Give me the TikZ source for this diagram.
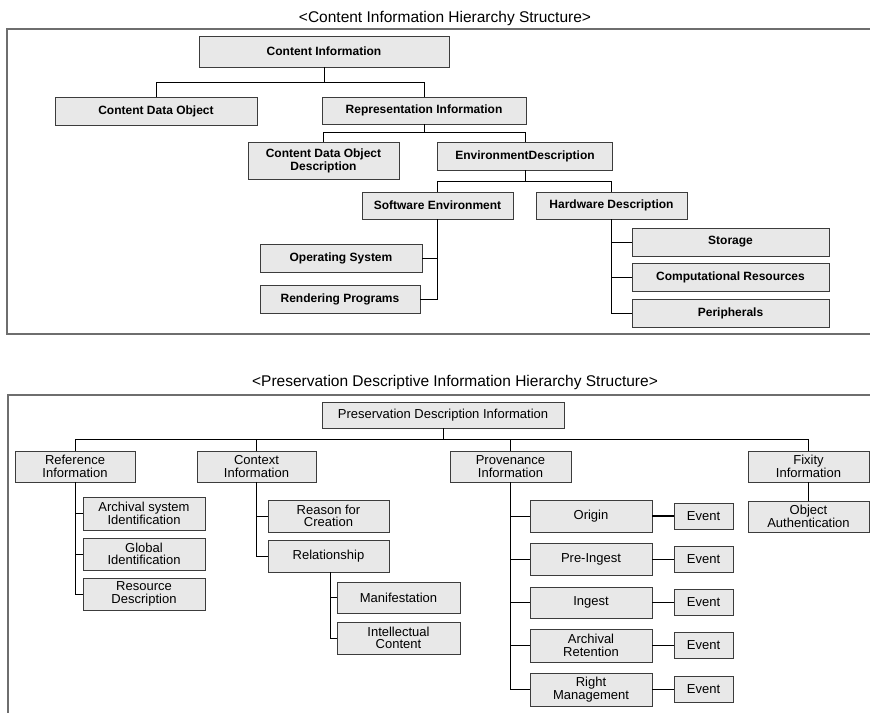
\documentclass[tikz,border=0pt]{standalone}
\usepackage{fontspec}
\setmainfont{Liberation Sans}
\definecolor{boxgray}{HTML}{E8E8E8}
\definecolor{edgegray}{HTML}{3C3C3C}
\definecolor{framegray}{HTML}{6E6E6E}

\begin{document}
\begin{tikzpicture}[x=1pt,y=-1pt,
    cbox/.style={draw=edgegray,fill=boxgray,line width=0.9pt,inner sep=0pt,
      minimum height=28,align=center,font=\fontsize{12}{13}\selectfont\bfseries},
    pbox/.style={draw=edgegray,fill=boxgray,line width=0.9pt,inner sep=0pt,
      minimum width=122,minimum height=32,align=center,
      font=\fontsize{13}{12.5}\selectfont},
    evbox/.style={pbox,minimum width=59,minimum height=26},
    heading/.style={inner sep=0pt,font=\fontsize{15.5}{17}\selectfont},
    link/.style={line width=0.8pt}]

    \useasboundingbox (0,0) rectangle (870,713);

    % Frames
    \draw[framegray,line width=1.3pt] (870,29) -- (7,29) -- (7,334) -- (870,334);
    \draw[framegray,line width=1.3pt] (870,395) -- (8,395) -- (8,713);

    % Titles
    \node[heading] (ttop) at (445,18) {<Content Information Hierarchy Structure>};
    \node[heading] (tbot) at (455,382) {<Preservation Descriptive Information Hierarchy Structure>};

    % Content information
    \node[cbox,minimum width=250,minimum height=31] (ci) at (324,51.5) {Content Information};
    \node[cbox,minimum width=202] (cdo) at (156,111) {Content Data Object};
    \node[cbox,minimum width=204,minimum height=27] (ri) at (424,110.5) {Representation Information};
    \node[cbox,minimum width=151,minimum height=37] (cdod) at (323.5,160.5) {Content Data Object\\Description};
    \node[cbox,minimum width=175] (ed) at (525,156) {EnvironmentDescription};
    \node[cbox,minimum width=151,minimum height=27] (se) at (437.5,205.5) {Software Environment};
    \node[cbox,minimum width=151,minimum height=27] (hd) at (611.5,205.5) {Hardware Description};
    \node[cbox,minimum width=162] (os) at (341,258) {Operating System};
    \node[cbox,minimum width=160] (rp) at (340,299) {Rendering Programs};
    \node[cbox,minimum width=197] (sto) at (730.5,242) {Storage};
    \node[cbox,minimum width=197] (cr) at (730.5,277) {Computational Resources};
    \node[cbox,minimum width=197] (per) at (730.5,313) {Peripherals};

    % Content information links
    \draw[link] (ci.south) -- ++(0,15) -| (cdo.north);
    \draw[link] (ci.south) -- ++(0,15) -| (ri.north);
    \draw[link] (ri.south) -- ++(0,8) -| (cdod.north);
    \draw[link] (ri.south) -- ++(0,8) -| (ed.north);
    \draw[link] (ed.south) -- ++(0,11) -| (se.north);
    \draw[link] (ed.south) -- ++(0,11) -| (hd.north);
    \draw[link] (se.south) |- (os.east);
    \draw[link] (se.south) |- (rp.east);
    \draw[link] (hd.south) |- (sto.west);
    \draw[link] (hd.south) |- (cr.west);
    \draw[link] (hd.south) |- (per.west);

    % Preservation description information
    \node[pbox,minimum width=242,minimum height=26] (pdi) at (443,415) {Preservation Description Information};
    \node[pbox,minimum width=120,minimum height=31] (ref) at (75,466.5) {Reference\\Information};
    \node[pbox,minimum width=119,minimum height=31] (ctx) at (256.5,466.5) {Context\\Information};
    \node[pbox,minimum width=121,minimum height=31] (prov) at (510.5,466.5) {Provenance\\Information};
    \node[pbox,minimum width=121,minimum height=31] (fix) at (808.5,466.5) {Fixity\\Information};

    % Reference and context children
    \node[pbox,minimum height=33] (asi) at (144,513.5) {Archival system\\Identification};
    \node[pbox] (gid) at (144,554) {Global\\Identification};
    \node[pbox] (rd) at (144,594) {Resource\\Description};
    \node[pbox,minimum width=121] (rfc) at (328.5,516) {Reason for\\Creation};
    \node[pbox,minimum width=121] (rel) at (328.5,556) {Relationship};
    \node[pbox,minimum width=123,minimum height=31] (man) at (398.5,597.5) {Manifestation};
    \node[pbox,minimum width=123] (ic) at (398.5,638) {Intellectual\\Content};

    % Provenance children and events
    \node[pbox] (org) at (591,516) {Origin};
    \node[pbox] (pre) at (591,559) {Pre-Ingest};
    \node[pbox,minimum height=31] (ing) at (591,602.5) {Ingest};
    \node[pbox,minimum height=33] (ar) at (591,645.5) {Archival\\Retention};
    \node[pbox,minimum height=33] (rm) at (591,689.5) {Right\\Management};
    \node[evbox] (ev1) at (703.5,516) {Event};
    \node[evbox] (ev2) at (703.5,559) {Event};
    \node[evbox] (ev3) at (703.5,602.5) {Event};
    \node[evbox] (ev4) at (703.5,645.5) {Event};
    \node[evbox] (ev5) at (703.5,689.5) {Event};
    \node[pbox,minimum width=121,minimum height=31] (oa) at (808.5,516.5) {Object\\Authentication};

    % Preservation links
    \draw[link] (pdi.south) -- ++(0,11) -| (ref.north);
    \draw[link] (pdi.south) -- ++(0,11) -| (ctx.north);
    \draw[link] (pdi.south) -- ++(0,11) -| (prov.north);
    \draw[link] (pdi.south) -- ++(0,11) -| (fix.north);
    \draw[link] (ref.south) |- (asi.west);
    \draw[link] (ref.south) |- (gid.west);
    \draw[link] (ref.south) |- (rd.west);
    \draw[link] (ctx.south) |- (rfc.west);
    \draw[link] (ctx.south) |- (rel.west);
    \draw[link] ([xshift=1.5]rel.south) |- (man.west);
    \draw[link] ([xshift=1.5]rel.south) |- (ic.west);
    \draw[link] (prov.south) |- (org.west);
    \draw[link] (prov.south) |- (pre.west);
    \draw[link] (prov.south) |- (ing.west);
    \draw[link] (prov.south) |- (ar.west);
    \draw[link] (prov.south) |- (rm.west);
    \draw[link] (fix) -- (oa);

    % Events
    \draw[link,line width=1.6pt] (org) -- (ev1);
    \draw[link] (pre) -- (ev2);
    \draw[link,line width=1.2pt] (ing) -- (ev3);
    \draw[link] (ar) -- (ev4);
    \draw[link] (rm) -- (ev5);

\end{tikzpicture}
\end{document}
